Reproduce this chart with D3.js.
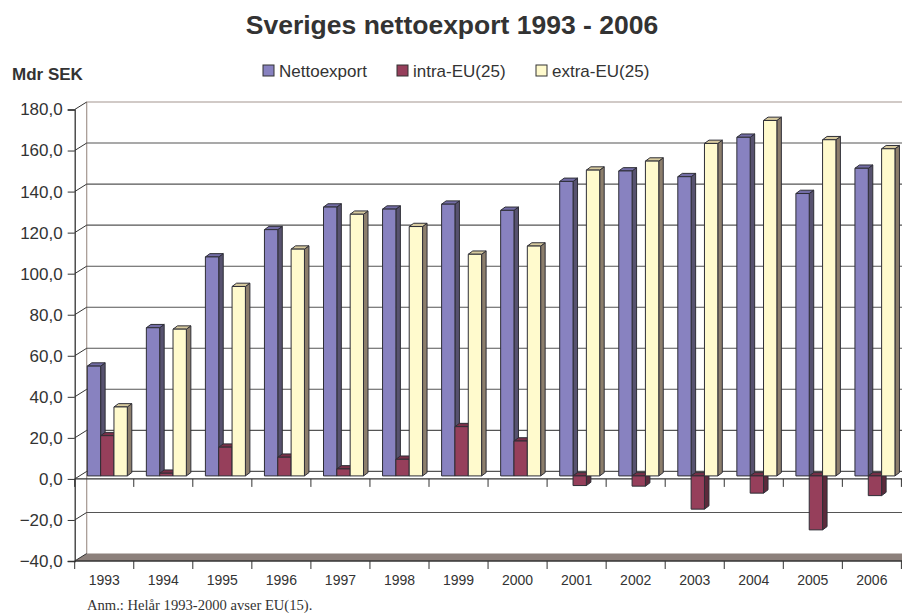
<!DOCTYPE html>
<html><head><meta charset="utf-8">
<script src="https://cdn.jsdelivr.net/npm/d3@7"></script>
<style>body{margin:0;background:#fff}svg{display:block}text{font-family:"Liberation Sans",Arial,sans-serif;fill:#333}</style>
</head><body>
<script>
const years = ["1993","1994","1995","1996","1997","1998","1999","2000","2001","2002","2003","2004","2005","2006"];
const seriesNames = ["Nettoexport","intra-EU(25)","extra-EU(25)"];
const netto = [53.5,72.2,106.7,120,131,130,132.4,129.4,143.5,148.6,145.8,165,137.6,149.9];
const intra = [19.6,1.3,14,9.1,3.4,8.1,24,17,-4.7,-5.0,-16.2,-8.4,-26.3,-9.6];
const extra = [33.6,71.5,92.3,110.5,127.5,121.5,108,112,149,153.4,162,173.2,163.8,159.4];
const yTicks = [-40,-20,0,20,40,60,80,100,120,140,160,180];

const W = 902, H = 613;
const svg = d3.select("body").append("svg").attr("width", W).attr("height", H);
svg.append("rect").attr("width", W).attr("height", H).attr("fill", "#fff");

const colors = [
  {front:"#8882c0", side:"#57526f", top:"#736da6"},
  {front:"#963f5b", side:"#5c2a3b", top:"#7a3048"},
  {front:"#fffacd", side:"#8c7e6c", top:"#d8cb9f"}
];
const data = [netto, intra, extra];

const x = d3.scaleBand().domain(years).range([74.7, 901.4]).padding(0);
const xs = d3.scaleBand().domain(seriesNames).range([12.6, 52.6]).padding(0);
const y = d3.scaleLinear().domain([-40, 180]).range([561, 109.5]);
const DX = 12, DY = -7.5;   // wall depth
const bdx = 4.5, bdy = -3.3; // bar depth
const yb = v => y(v) - 3;     // bar front plane

const axisCol = "#333";
// floor
const fl = y(-40);
svg.append("path").attr("d", `M${x.range()[0]},${fl}L${x.range()[0]+DX},${fl+DY}L${W},${fl+DY}L${W},${fl}Z`)
  .attr("fill", "#8c807b");
// back wall edges
svg.append("line").attr("x1", x.range()[0]+DX).attr("x2", x.range()[0]+DX).attr("y1", y(180)+DY).attr("y2", fl+DY)
  .attr("stroke", "#a3968f").attr("stroke-width", 1.2);
// gridlines
yTicks.filter(v => v > -40).forEach(v => {
  svg.append("line").attr("x1", x.range()[0]+DX).attr("x2", W).attr("y1", y(v)+DY).attr("y2", y(v)+DY)
    .attr("stroke", v === 180 ? "#a3968f" : "#555").attr("stroke-width", 1.1);
});
// diagonals at ticks
yTicks.forEach(v => {
  svg.append("line").attr("x1", x.range()[0]).attr("x2", x.range()[0]+DX).attr("y1", y(v)).attr("y2", y(v)+DY)
    .attr("stroke", axisCol).attr("stroke-width", 1);
});
// front y axis
const yAxis = d3.axisLeft(y).tickValues(yTicks).tickSize(7).tickPadding(5)
  .tickFormat(d => d3.format(".1f")(d).replace(".", ","));
const gy = svg.append("g").attr("transform", `translate(${x.range()[0]},0)`).call(yAxis);
gy.select(".domain").attr("stroke", axisCol).attr("stroke-width", 1.3);
gy.selectAll(".tick line").attr("stroke", axisCol);
gy.selectAll("text").attr("font-size", 17).attr("fill", "#333").style("font-family", '"Liberation Sans",Arial,sans-serif');

// category axes with ticks
function catAxis(yy) {
  svg.append("line").attr("x1", x.range()[0]).attr("x2", W).attr("y1", yy).attr("y2", yy).attr("stroke", axisCol).attr("stroke-width", 1.3);
  const bounds = years.map(d => x(d)).concat([x.range()[1]]);
  bounds.forEach(b => svg.append("line").attr("x1", b).attr("x2", b).attr("y1", yy).attr("y2", yy+8).attr("stroke", axisCol).attr("stroke-width", 1));
}
catAxis(y(0));
catAxis(y(-40));

// bars
const stroke = "#2e2e36";
years.forEach((yr, i) => {
  seriesNames.forEach((s, j) => {
    const v = data[j][i];
    const bx = x(yr) + xs(s), bw = xs.bandwidth();
    const yt = yb(Math.max(v, 0)), ybot = yb(Math.min(v, 0));
    const c = colors[j];
    const g = svg.append("g").attr("stroke", stroke).attr("stroke-width", 1).attr("stroke-linejoin", "round");
    g.append("path").attr("fill", c.side)
      .attr("d", `M${bx+bw},${yt}L${bx+bw+bdx},${yt+bdy}L${bx+bw+bdx},${ybot+bdy}L${bx+bw},${ybot}Z`);
    g.append("path").attr("fill", c.top)
      .attr("d", `M${bx},${yt}L${bx+bdx},${yt+bdy}L${bx+bw+bdx},${yt+bdy}L${bx+bw},${yt}Z`);
    g.append("rect").attr("x", bx).attr("y", yt).attr("width", bw).attr("height", Math.max(ybot-yt, 0.5)).attr("fill", c.front);
  });
});

// year labels
years.forEach(yr => {
  svg.append("text").attr("x", x(yr) + x.bandwidth()/2).attr("y", 585).attr("text-anchor", "middle")
    .attr("font-size", 14).text(yr);
});

// title
svg.append("text").attr("x", 452).attr("y", 34).attr("text-anchor", "middle").attr("font-size", 26.5)
  .attr("font-weight", "bold").text("Sveriges nettoexport 1993 - 2006");
// unit
svg.append("text").attr("x", 12).attr("y", 80).attr("font-size", 17).attr("font-weight", "bold").text("Mdr SEK");
// legend
const legX = [263, 397, 536];
seriesNames.forEach((s, j) => {
  svg.append("rect").attr("x", legX[j]).attr("y", 65).attr("width", 11).attr("height", 11)
    .attr("fill", colors[j].front).attr("stroke", "#333").attr("stroke-width", 1);
  svg.append("text").attr("x", legX[j] + 16).attr("y", 76.5).attr("font-size", 17).text(s);
});
// note
svg.append("text").attr("x", 87).attr("y", 610).attr("font-size", 14.6)
  .style("font-family", '"Liberation Serif","Times New Roman",serif').text("Anm.: Helår 1993-2000 avser EU(15).");
</script>
</body></html>
